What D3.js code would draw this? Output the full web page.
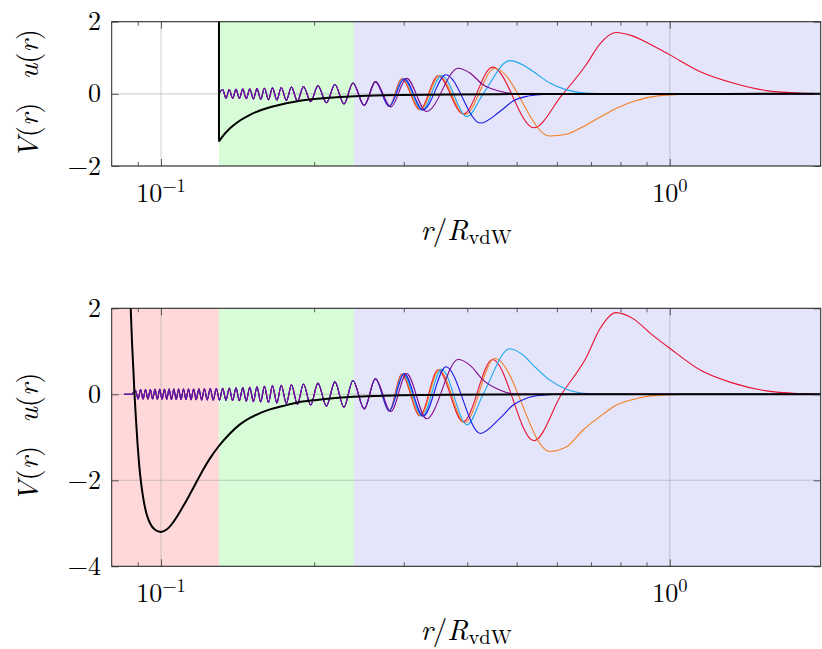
<!DOCTYPE html>
<html><head><meta charset="utf-8">
<script src="https://cdn.jsdelivr.net/npm/d3@7"></script>
<style>
body{margin:0;background:#fff}
svg{display:block}
</style>
</head><body>
<svg id="chart" width="822" height="649"></svg>
<script>
// ---------- data ----------
const xDomain = [0.08, 1.98];
const rWall = 0.1300;      // hard wall / inner region boundary
const rOuter = 0.2395;     // green / blue region boundary
const xMajorTicks = [0.1, 1];
const xMinorTicks = [0.09, 0.2, 0.3, 0.4, 0.5, 0.6, 0.7, 0.8, 0.9];
const xTickExp = ["\u22121", "0"];
const yTicksTop = [-2, 0, 2];
const yTicksBottom = [-4, -2, 0, 2];

// potential, top panel (hard wall + tail)
const vTopR = [0.1300, 0.13298, 0.13559, 0.13869, 0.14296, 0.14957, 0.15649, 0.16374, 0.17523, 0.18754, 0.20530, 0.22474, 0.24601, 0.29481, 0.36964, 0.46345, 0.72857, 1.98];
const vTopV = [-1.32, -1.13, -1.00, -0.88, -0.74, -0.58, -0.46, -0.37, -0.27, -0.19, -0.13, -0.09, -0.06, -0.03, -0.015, -0.008, -0.003, 0];

// potential, bottom panel (realistic well)
const vBotR = [0.08672, 0.08719, 0.08771, 0.08822, 0.08870, 0.08931, 0.08992, 0.09053, 0.09135, 0.09239, 0.09365, 0.09515, 0.09732, 0.1, 0.10275, 0.10606, 0.11061, 0.11402, 0.11753, 0.12093, 0.12482, 0.12959, 0.13664, 0.14296, 0.14957, 0.16374, 0.17389, 0.18754, 0.20225, 0.21773, 0.23513, 0.26329, 0.29481, 0.36964, 0.46345, 0.72857, 1.98];
const vBotV = [2.7, 2.0, 1.2, 0.6, 0.0, -0.6, -1.15, -1.6, -2.05, -2.45, -2.78, -3.0, -3.15, -3.2, -3.14, -2.95, -2.6, -2.32, -2.03, -1.76, -1.49, -1.22, -0.91, -0.70, -0.55, -0.35, -0.27, -0.18, -0.13, -0.09, -0.06, -0.04, -0.02, -0.01, -0.005, 0, 0];

// shared short-range oscillation (extrema), common to all wave functions
const rCommon = [0.08459, 0.08751, 0.08911, 0.09016, 0.09118, 0.09220, 0.09323, 0.09425, 0.09528, 0.09629,
  0.09732, 0.09836, 0.09941, 0.10048, 0.10155, 0.10264, 0.10373, 0.10484, 0.10596, 0.10712,
  0.10829, 0.10949, 0.11071, 0.11197, 0.11325, 0.11456, 0.11589, 0.11729, 0.11870, 0.12019,
  0.12169, 0.12330, 0.12493, 0.12666, 0.12842, 0.13030, 0.13220, 0.13419, 0.13620, 0.13828,
  0.14040, 0.14257, 0.14478, 0.14709, 0.14944, 0.15189, 0.15439, 0.15703, 0.15971, 0.16263,
  0.16560, 0.16893, 0.17233, 0.17635, 0.18046, 0.18543, 0.19053, 0.19688, 0.20345, 0.21142,
  0.21971, 0.22884, 0.23835, 0.25079, 0.26389];
const uCommonBottom = [0, 0, 0.09, -0.11, 0.11, -0.11, 0.11, -0.11, 0.11, -0.11,
  0.115, -0.115, 0.115, -0.115, 0.115, -0.115, 0.12, -0.12, 0.12, -0.12,
  0.12, -0.12, 0.12, -0.12, 0.125, -0.125, 0.125, -0.125, 0.13, -0.13,
  0.13, -0.13, 0.135, -0.135, 0.135, -0.135, 0.14, -0.14, 0.145, -0.145,
  0.15, -0.15, 0.155, -0.16, 0.165, -0.17, 0.175, -0.18, 0.185, -0.19,
  0.195, -0.20, 0.21, -0.215, 0.22, -0.23, 0.24, -0.25, 0.26, -0.275,
  0.29, -0.30, 0.32, -0.34, 0.36];
// top panel: only the extrema outside the hard wall (last 29 of rCommon)
const uCommonTop = [0.12, -0.12, 0.12, -0.125, 0.125, -0.13, 0.13, -0.135, 0.135, -0.14,
  0.145, -0.15, 0.155, -0.16, 0.165, -0.17, 0.175, -0.18, 0.19, -0.20,
  0.205, -0.215, 0.225, -0.245, 0.26, -0.28, 0.30, -0.32, 0.34];

// long-range parts of each wave function
const redR = [0.28088, 0.29709, 0.32273, 0.35058, 0.39256, 0.44840, 0.54051, 0.61266, 0.68602, 0.72857, 0.78325, 0.84701, 0.91348, 1.0, 1.14535, 1.33158, 1.54870, 1.80055, 1.98];
const redBottom = [-0.39, 0.47, -0.50, 0.57, -0.64, 0.81, -1.08, 0, 0.87, 1.52, 1.90, 1.76, 1.43, 1.07, 0.57, 0.26, 0.08, 0.015, 0];
const redTop = [-0.35, 0.42, -0.44, 0.50, -0.56, 0.74, -0.94, -0.05, 0.82, 1.38, 1.70, 1.60, 1.38, 1.08, 0.62, 0.30, 0.09, 0.02, 0];

const orangeR = [0.28088, 0.29789, 0.32375, 0.35217, 0.39559, 0.45309, 0.58108, 0.62668, 0.67555, 0.72857, 0.78574, 0.84701, 0.95575, 1.14535, 1.98];
const orangeBottom = [-0.39, 0.47, -0.50, 0.57, -0.66, 0.84, -1.33, -1.22, -0.83, -0.52, -0.25, -0.12, -0.02, 0, 0];
const orangeTop = [-0.35, 0.42, -0.44, 0.50, -0.58, 0.71, -1.17, -1.12, -0.91, -0.65, -0.40, -0.21, -0.05, 0, 0];

const cyanR = [0.28088, 0.29925, 0.32610, 0.35601, 0.39973, 0.42973, 0.48490, 0.51497, 0.53880, 0.58108, 0.62668, 0.68602, 0.75099, 1.98];
const cyanBottom = [-0.39, 0.47, -0.51, 0.58, -0.71, 0, 1.06, 0.91, 0.68, 0.33, 0.12, 0.02, 0, 0];
const cyanTop = [-0.35, 0.42, -0.45, 0.51, -0.63, 0, 0.92, 0.80, 0.62, 0.30, 0.11, 0.02, 0, 0];

const blueR = [0.28088, 0.30060, 0.32758, 0.36301, 0.42432, 0.46345, 0.49219, 0.52295, 0.56373, 0.60797, 1.98];
const blueBottom = [-0.39, 0.48, -0.51, 0.64, -0.91, -0.56, -0.25, -0.09, -0.02, 0, 0];
const blueTop = [-0.35, 0.42, -0.45, 0.53, -0.81, -0.49, -0.20, -0.07, -0.02, 0, 0];

const purpleR = [0.28305, 0.30388, 0.33266, 0.38378, 0.40464, 0.42973, 0.46345, 0.49219, 0.53082, 1.98];
const purpleBottom = [-0.40, 0.48, -0.57, 0.81, 0.68, 0.33, 0.10, 0.01, 0, 0];
const purpleTop = [-0.36, 0.43, -0.49, 0.71, 0.58, 0.25, 0.07, 0.01, 0, 0];

const seriesNames = ["red", "orange", "cyan", "blue", "purple"];
const seriesColors = ["#e8102e", "#f37f22", "#1ba7ee", "#1818e8", "#7f0a8c"];

// ---------- drawing ----------
const svg = d3.select("#chart");
const FONT = "'Latin Modern Roman', 'Liberation Serif', serif";
const X0 = 111.7, X1 = 820.7;
const x = d3.scaleLog().domain(xDomain).range([X0, X1]);

const series = [
  {r: redR, bottom: redBottom, top: redTop},
  {r: orangeR, bottom: orangeBottom, top: orangeTop},
  {r: cyanR, bottom: cyanBottom, top: cyanTop},
  {r: blueR, bottom: blueBottom, top: blueTop},
  {r: purpleR, bottom: purpleBottom, top: purpleTop}
].map((s, i) => Object.assign(s, {name: seriesNames[i], color: seriesColors[i]}));

const topOffset = rCommon.length - uCommonTop.length;
const commonBottom = rCommon.map((r, i) => [r, uCommonBottom[i]]);
const commonTop = [[rWall, 0]].concat(uCommonTop.map((u, i) => [rCommon[i + topOffset], u]));

const panels = [
  {id: "top", yDomain: [-2, 2], yRange: [166, 21.7], yTicks: yTicksTop,
   regions: [[rWall, rOuter, "#d8fcd8"], [rOuter, xDomain[1], "#e4e4fa"]],
   common: commonTop, key: "top",
   vPts: vTopR.map((r, i) => [r, vTopV[i]]), wall: true},
  {id: "bottom", yDomain: [-4, 2], yRange: [566.3, 308.3], yTicks: yTicksBottom,
   regions: [[xDomain[0], rWall, "#ffd9d9"], [rWall, rOuter, "#d8fcd8"], [rOuter, xDomain[1], "#e4e4fa"]],
   common: commonBottom, key: "bottom",
   vPts: vBotR.map((r, i) => [r, vBotV[i]]), wall: false}
];

const txt = (sel) => sel.style("font-family", FONT).attr("fill", "#000");

panels.forEach(p => {
  const y = d3.scaleLinear().domain(p.yDomain).range(p.yRange);
  const yTop = p.yRange[1], yBot = p.yRange[0];
  const g = svg.append("g");
  const clipId = "clip-" + p.id;
  svg.append("clipPath").attr("id", clipId).append("rect")
    .attr("x", X0).attr("y", yTop).attr("width", X1 - X0).attr("height", yBot - yTop);

  // regions
  g.selectAll("rect.region").data(p.regions).join("rect").attr("class", "region")
    .attr("x", d => x(d[0])).attr("width", d => x(d[1]) - x(d[0]))
    .attr("y", yTop).attr("height", yBot - yTop).attr("fill", d => d[2]);

  // grid
  const grid = g.append("g").attr("stroke", "#9a9a9a").attr("stroke-opacity", 0.6).attr("stroke-width", 0.8);
  grid.selectAll("line.gx").data(xMajorTicks).join("line")
    .attr("x1", d => x(d)).attr("x2", d => x(d)).attr("y1", yTop).attr("y2", yBot);
  grid.selectAll("line.gy").data(p.yTicks).join("line")
    .attr("x1", X0).attr("x2", X1).attr("y1", d => y(d)).attr("y2", d => y(d));

  const plot = g.append("g").attr("clip-path", `url(#${clipId})`);
  const line = d3.line().x(d => x(d[0])).y(d => y(d[1])).curve(d3.curveMonotoneX);

  // wave functions
  series.forEach(s => {
    const pts = p.common.concat(s.r.map((r, i) => [r, s[p.key][i]]));
    plot.append("path").attr("d", line(pts)).attr("fill", "none")
      .attr("stroke", s.color).attr("stroke-width", 1.1);
  });

  // potential
  if (p.wall) {
    plot.append("path").attr("d", d3.line().x(d => x(d[0])).y(d => y(d[1]))([[rWall, p.yDomain[1] + 1], p.vPts[0]]))
      .attr("stroke", "#000").attr("stroke-width", 2).attr("fill", "none");
  }
  plot.append("path").attr("d", line(p.vPts)).attr("fill", "none")
    .attr("stroke", "#000").attr("stroke-width", 2);

  // frame
  g.append("rect").attr("x", X0).attr("y", yTop).attr("width", X1 - X0).attr("height", yBot - yTop)
    .attr("fill", "none").attr("stroke", "#222").attr("stroke-width", 1);

  // ticks via d3 axes (inward)
  const axStyle = sel => { sel.select(".domain").remove(); sel.selectAll("line").attr("stroke", "#333").attr("stroke-width", 0.8); sel.selectAll("text").remove(); };
  g.append("g").attr("transform", `translate(0,${yBot})`)
    .call(d3.axisBottom(x).tickValues(xMajorTicks).tickSizeInner(-7).tickSizeOuter(0).tickFormat("")).call(axStyle);
  g.append("g").attr("transform", `translate(0,${yBot})`)
    .call(d3.axisBottom(x).tickValues(xMinorTicks).tickSizeInner(-4).tickSizeOuter(0).tickFormat("")).call(axStyle);
  g.append("g").attr("transform", `translate(0,${yTop})`)
    .call(d3.axisTop(x).tickValues(xMajorTicks).tickSizeInner(-7).tickSizeOuter(0).tickFormat("")).call(axStyle);
  g.append("g").attr("transform", `translate(0,${yTop})`)
    .call(d3.axisTop(x).tickValues(xMinorTicks).tickSizeInner(-4).tickSizeOuter(0).tickFormat("")).call(axStyle);
  g.append("g").attr("transform", `translate(${X0},0)`)
    .call(d3.axisLeft(y).tickValues(p.yTicks).tickSizeInner(-7).tickSizeOuter(0).tickFormat("")).call(axStyle);
  g.append("g").attr("transform", `translate(${X1},0)`)
    .call(d3.axisRight(y).tickValues(p.yTicks).tickSizeInner(-7).tickSizeOuter(0).tickFormat("")).call(axStyle);

  // y tick labels
  g.selectAll("text.yl").data(p.yTicks).join("text").attr("class", "yl").call(txt)
    .attr("x", 101).attr("y", d => y(d)).attr("dy", "0.33em").attr("text-anchor", "end")
    .attr("font-size", 26).text(d => d < 0 ? "\u2212" + Math.abs(d) : String(d));

  // x tick labels 10^k
  xMajorTicks.forEach((t, i) => {
    const tx = g.append("text").call(txt).attr("x", x(t)).attr("y", yBot + 35.5)
      .attr("text-anchor", "middle").attr("font-size", 26);
    tx.append("tspan").text("10");
    tx.append("tspan").attr("font-size", 18.5).attr("dy", -10).text(xTickExp[i]);
  });

  // x axis label
  const cx = (X0 + X1) / 2;
  const xl = g.append("text").call(txt).attr("x", cx).attr("y", yBot + 73.5)
    .attr("text-anchor", "middle").attr("font-size", 29);
  xl.append("tspan").style("font-style", "italic").text("r");
  xl.append("tspan").text("/");
  xl.append("tspan").style("font-style", "italic").text("R");
  xl.append("tspan").attr("font-size", 20.5).attr("dy", 4).text("vdW");

  // y axis label
  const cy = (yTop + yBot) / 2;
  const yl = g.append("text").call(txt).attr("transform", `translate(38,${cy}) rotate(-90)`)
    .attr("text-anchor", "middle").attr("font-size", 29);
  yl.append("tspan").style("font-style", "italic").text("V");
  yl.append("tspan").text("(");
  yl.append("tspan").style("font-style", "italic").text("r");
  yl.append("tspan").text(")");
  yl.append("tspan").attr("dx", 23).style("font-style", "italic").text("u");
  yl.append("tspan").text("(");
  yl.append("tspan").style("font-style", "italic").text("r");
  yl.append("tspan").text(")");
});
</script>
</body></html>
